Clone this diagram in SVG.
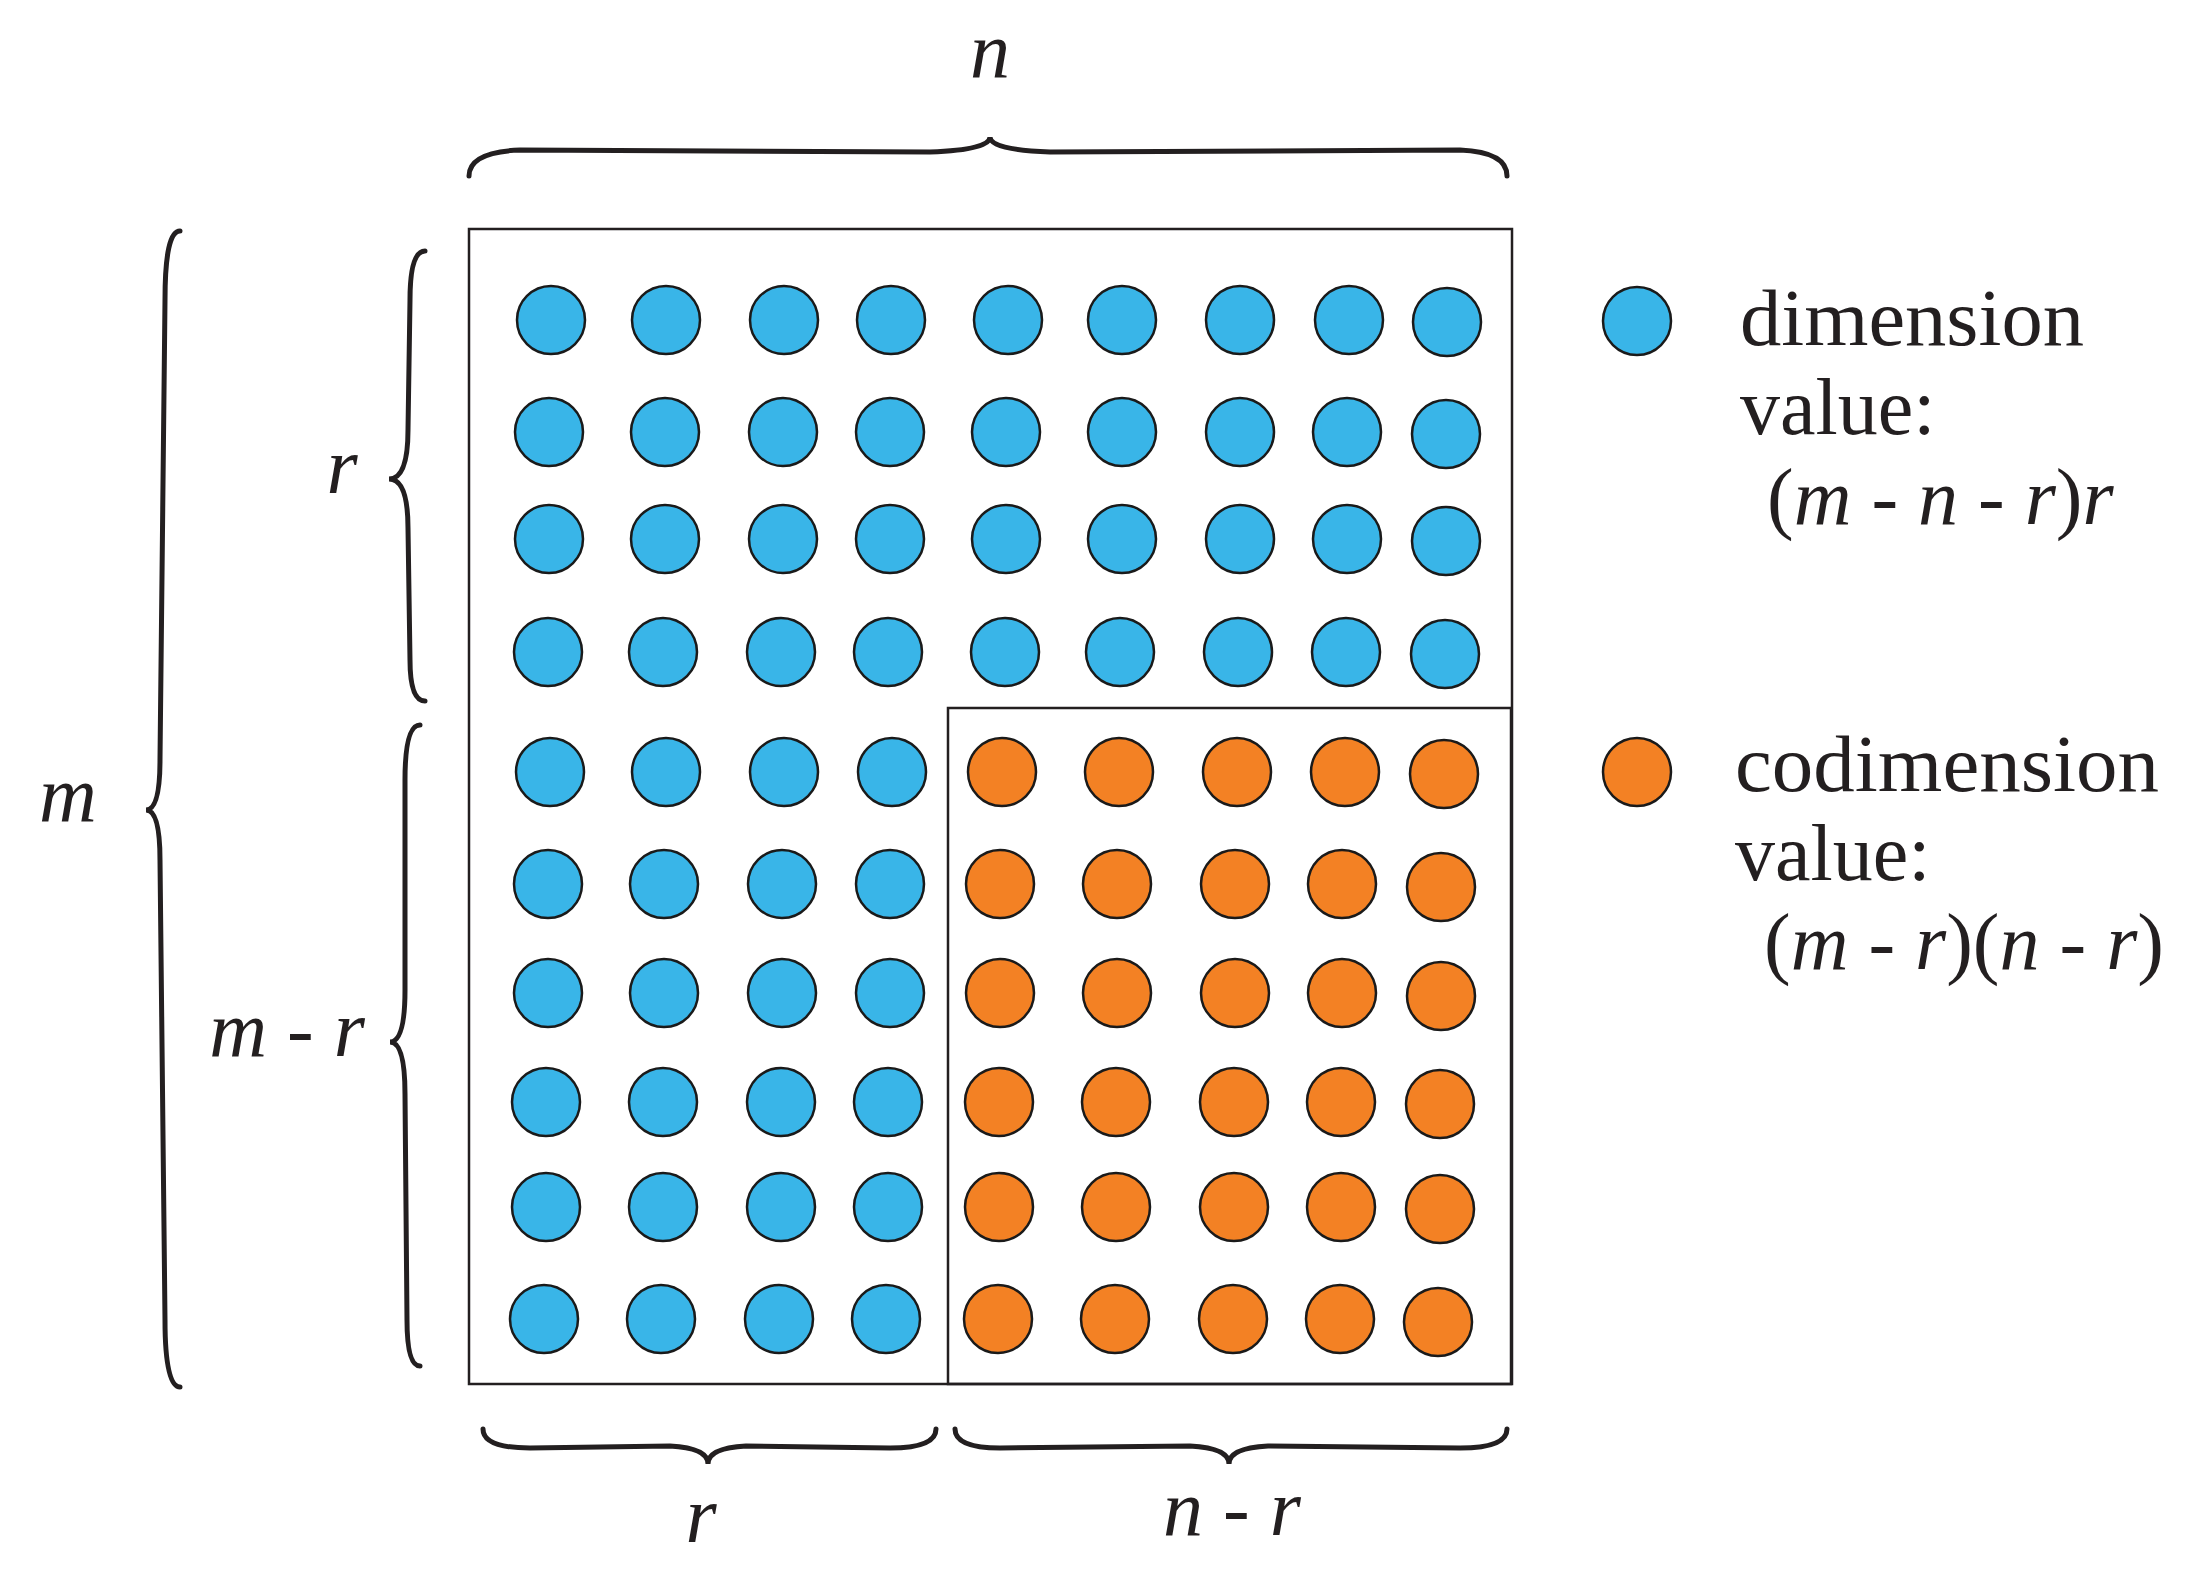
<svg xmlns="http://www.w3.org/2000/svg" width="2197" height="1579" viewBox="0 0 2197 1579">
<style>
.b{fill:#39b5e8;stroke:#1a1a1a;stroke-width:2.5}
.o{fill:#f38124;stroke:#1a1a1a;stroke-width:2.5}
.br{fill:none;stroke:#231f20;stroke-width:5;stroke-linecap:round}
.t{font-family:"Liberation Serif",serif;font-size:80px;fill:#231f20}
.i{font-style:italic}
.bx{fill:none;stroke:#231f20;stroke-width:2.5}
</style>
<rect width="2197" height="1579" fill="#fff"/>
<g id="connectors">
<path class="br" d="M469,176 Q469,152 520,150 L930,152 Q990,150 990,137 Q990,150 1050,152 L1460,150 Q1507,152 1507,176"/>
<path class="br" d="M180,231 Q165,231 165,300 L160,760 Q160,810 146,810 Q160,810 160,860 L165,1320 Q165,1387 180,1387"/>
<path class="br" d="M425,251 Q410,251 410,300 L408,430 Q408,479 389,479 Q408,479 408,528 L410,660 Q410,701 425,701"/>
<path class="br" d="M420,725 Q405,725 405,780 L405,990 Q405,1042 390,1042 Q405,1042 405,1094 L407,1320 Q407,1366 420,1366"/>
<path class="br" d="M483,1429 Q483,1448 530,1448 L670,1446 Q708,1448 708,1464 Q708,1448 746,1446 L890,1448 Q936,1448 936,1429"/>
<path class="br" d="M955,1429 Q955,1448 1000,1448 L1190,1446 Q1229,1448 1229,1464 Q1229,1448 1268,1446 L1460,1448 Q1507,1448 1507,1429"/>
</g>
<g id="box"><rect class="bx" x="469" y="229" width="1043" height="1155"/><rect class="bx" x="948" y="708" width="563" height="676"/></g>
<g id="dots">
<g class="b">
<circle cx="551" cy="320" r="34"/><circle cx="666" cy="320" r="34"/><circle cx="784" cy="320" r="34"/><circle cx="891" cy="320" r="34"/><circle cx="1008" cy="320" r="34"/><circle cx="1122" cy="320" r="34"/><circle cx="1240" cy="320" r="34"/><circle cx="1349" cy="320" r="34"/><circle cx="1447" cy="322" r="34"/>
<circle cx="549" cy="432" r="34"/><circle cx="665" cy="432" r="34"/><circle cx="783" cy="432" r="34"/><circle cx="890" cy="432" r="34"/><circle cx="1006" cy="432" r="34"/><circle cx="1122" cy="432" r="34"/><circle cx="1240" cy="432" r="34"/><circle cx="1347" cy="432" r="34"/><circle cx="1446" cy="434" r="34"/>
<circle cx="549" cy="539" r="34"/><circle cx="665" cy="539" r="34"/><circle cx="783" cy="539" r="34"/><circle cx="890" cy="539" r="34"/><circle cx="1006" cy="539" r="34"/><circle cx="1122" cy="539" r="34"/><circle cx="1240" cy="539" r="34"/><circle cx="1347" cy="539" r="34"/><circle cx="1446" cy="541" r="34"/>
<circle cx="548" cy="652" r="34"/><circle cx="663" cy="652" r="34"/><circle cx="781" cy="652" r="34"/><circle cx="888" cy="652" r="34"/><circle cx="1005" cy="652" r="34"/><circle cx="1120" cy="652" r="34"/><circle cx="1238" cy="652" r="34"/><circle cx="1346" cy="652" r="34"/><circle cx="1445" cy="654" r="34"/>
<circle cx="550" cy="772" r="34"/><circle cx="666" cy="772" r="34"/><circle cx="784" cy="772" r="34"/><circle cx="892" cy="772" r="34"/>
<circle cx="548" cy="884" r="34"/><circle cx="664" cy="884" r="34"/><circle cx="782" cy="884" r="34"/><circle cx="890" cy="884" r="34"/>
<circle cx="548" cy="993" r="34"/><circle cx="664" cy="993" r="34"/><circle cx="782" cy="993" r="34"/><circle cx="890" cy="993" r="34"/>
<circle cx="546" cy="1102" r="34"/><circle cx="663" cy="1102" r="34"/><circle cx="781" cy="1102" r="34"/><circle cx="888" cy="1102" r="34"/>
<circle cx="546" cy="1207" r="34"/><circle cx="663" cy="1207" r="34"/><circle cx="781" cy="1207" r="34"/><circle cx="888" cy="1207" r="34"/>
<circle cx="544" cy="1319" r="34"/><circle cx="661" cy="1319" r="34"/><circle cx="779" cy="1319" r="34"/><circle cx="886" cy="1319" r="34"/>
</g>
<g class="o">
<circle cx="1002" cy="772" r="34"/><circle cx="1119" cy="772" r="34"/><circle cx="1237" cy="772" r="34"/><circle cx="1345" cy="772" r="34"/><circle cx="1444" cy="774" r="34"/>
<circle cx="1000" cy="884" r="34"/><circle cx="1117" cy="884" r="34"/><circle cx="1235" cy="884" r="34"/><circle cx="1342" cy="884" r="34"/><circle cx="1441" cy="887" r="34"/>
<circle cx="1000" cy="993" r="34"/><circle cx="1117" cy="993" r="34"/><circle cx="1235" cy="993" r="34"/><circle cx="1342" cy="993" r="34"/><circle cx="1441" cy="996" r="34"/>
<circle cx="999" cy="1102" r="34"/><circle cx="1116" cy="1102" r="34"/><circle cx="1234" cy="1102" r="34"/><circle cx="1341" cy="1102" r="34"/><circle cx="1440" cy="1104" r="34"/>
<circle cx="999" cy="1207" r="34"/><circle cx="1116" cy="1207" r="34"/><circle cx="1234" cy="1207" r="34"/><circle cx="1341" cy="1207" r="34"/><circle cx="1440" cy="1209" r="34"/>
<circle cx="998" cy="1319" r="34"/><circle cx="1115" cy="1319" r="34"/><circle cx="1233" cy="1319" r="34"/><circle cx="1340" cy="1319" r="34"/><circle cx="1438" cy="1322" r="34"/>
</g>
</g>
<g id="legend">
<circle class="b" cx="1637" cy="321" r="34"/>
<circle class="o" cx="1637" cy="772" r="34"/>
<text class="t" x="1740" y="345" textLength="344" lengthAdjust="spacingAndGlyphs">dimension</text>
<text class="t" x="1740" y="434">value:</text>
<text class="t" x="1767" y="524"><tspan>(</tspan><tspan class="i">m</tspan> - <tspan class="i">n</tspan> - <tspan class="i">r</tspan>)<tspan class="i">r</tspan></text>
<text class="t" x="1735" y="791" textLength="424" lengthAdjust="spacingAndGlyphs">codimension</text>
<text class="t" x="1735" y="880">value:</text>
<text class="t" x="1764" y="969">(<tspan class="i">m</tspan> - <tspan class="i">r</tspan>)(<tspan class="i">n</tspan> - <tspan class="i">r</tspan>)</text>
</g>
<g id="labels">
<text class="t i" x="990" y="77" text-anchor="middle">n</text>
<text class="t i" x="68" y="821" text-anchor="middle">m</text>
<text class="t i" x="342" y="493" text-anchor="middle">r</text>
<text class="t" x="287" y="1056" text-anchor="middle"><tspan class="i">m</tspan> - <tspan class="i">r</tspan></text>
<text class="t i" x="701" y="1542" text-anchor="middle">r</text>
<text class="t" x="1232" y="1535" text-anchor="middle"><tspan class="i">n</tspan> - <tspan class="i">r</tspan></text>
</g>
</svg>
